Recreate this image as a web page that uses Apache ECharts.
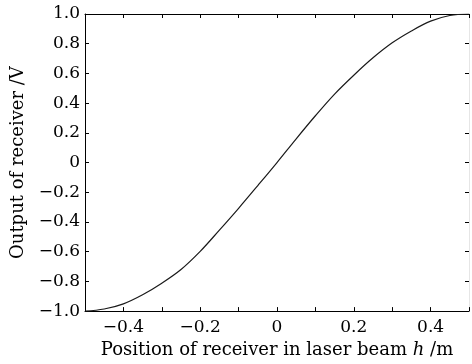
<!DOCTYPE html>
<html>
<head>
<meta charset="utf-8">
<script src="https://cdn.jsdelivr.net/npm/echarts@6/dist/echarts.min.js"></script>
<style>
  html, body { margin: 0; padding: 0; background: #fff; }
  #chart { width: 472px; height: 364px; }
</style>
</head>
<body>
<div id="chart"></div>
<script>
// receiver position h (m) and output (V)
const positions = [-0.5, -0.45, -0.4, -0.35, -0.3, -0.25, -0.2, -0.15, -0.1, -0.05, 0,
  0.05, 0.1, 0.15, 0.2, 0.25, 0.3, 0.35, 0.4, 0.45, 0.5];
const outputs = [-1.0, -0.986, -0.951, -0.89, -0.812, -0.72, -0.598, -0.455, -0.308, -0.155, 0.0,
  0.16, 0.315, 0.461, 0.588, 0.705, 0.806, 0.886, 0.952, 0.99, 1.0];

const fontFamily = 'DejaVu Serif';

// 负号用 U+2212
const fmt = (v) => {
  if (Math.abs(v) < 1e-9) return '0';
  return v.toFixed(1).replace('-', '\u2212');
};

const chart = echarts.init(document.getElementById('chart'));

const tickStyle = { show: true, inside: true, length: 4, lineStyle: { color: '#000', width: 1 } };
const lineStyle = { color: '#000', width: 1 };

const option = {
  backgroundColor: '#fff',
  animation: false,
  grid: { left: 85, right: 1, top: 14, bottom: 46 },
  xAxis: [
    {
      type: 'value',
      min: -0.5,
      max: 0.5,
      interval: 0.1,
      name: 'Position of receiver in laser beam {i|h} /m',
      nameLocation: 'middle',
      nameGap: 26,
      nameTextStyle: {
        fontFamily, fontSize: 18, color: '#000',
        rich: { i: { fontFamily, fontStyle: 'italic', fontSize: 18, color: '#000' } }
      },
      axisLine: { show: true, onZero: false, lineStyle },
      axisTick: tickStyle,
      splitLine: { show: false },
      axisLabel: {
        fontFamily, fontSize: 17, color: '#000', margin: 8,
        formatter: (v) => (Math.round(v * 10) % 2 !== 0 ? '' : fmt(v))
      }
    },
    {
      type: 'value',
      position: 'top',
      min: -0.5,
      max: 0.5,
      interval: 0.1,
      axisLine: { show: true, onZero: false, lineStyle },
      axisTick: tickStyle,
      axisLabel: { show: false },
      splitLine: { show: false }
    }
  ],
  yAxis: [
    {
      type: 'value',
      min: -1,
      max: 1,
      interval: 0.2,
      name: 'Output of receiver /V',
      nameLocation: 'middle',
      nameGap: 47,
      nameTextStyle: { fontFamily, fontSize: 18, color: '#000' },
      axisLine: { show: true, onZero: false, lineStyle },
      axisTick: tickStyle,
      splitLine: { show: false },
      axisLabel: { fontFamily, fontSize: 17, color: '#000', margin: 5, formatter: fmt }
    },
    {
      type: 'value',
      position: 'right',
      min: -1,
      max: 1,
      interval: 0.2,
      axisLine: { show: true, onZero: false, lineStyle: { color: '#e6e6e6', width: 1 } },
      axisTick: tickStyle,
      axisLabel: { show: false },
      splitLine: { show: false }
    }
  ],
  series: [
    {
      type: 'line',
      data: positions.map((h, i) => [h, outputs[i]]),
      smooth: 0.35,
      showSymbol: false,
      lineStyle: { color: '#1a1a1a', width: 1.2 }
    }
  ]
};

option && chart.setOption(option);
</script>
</body>
</html>
